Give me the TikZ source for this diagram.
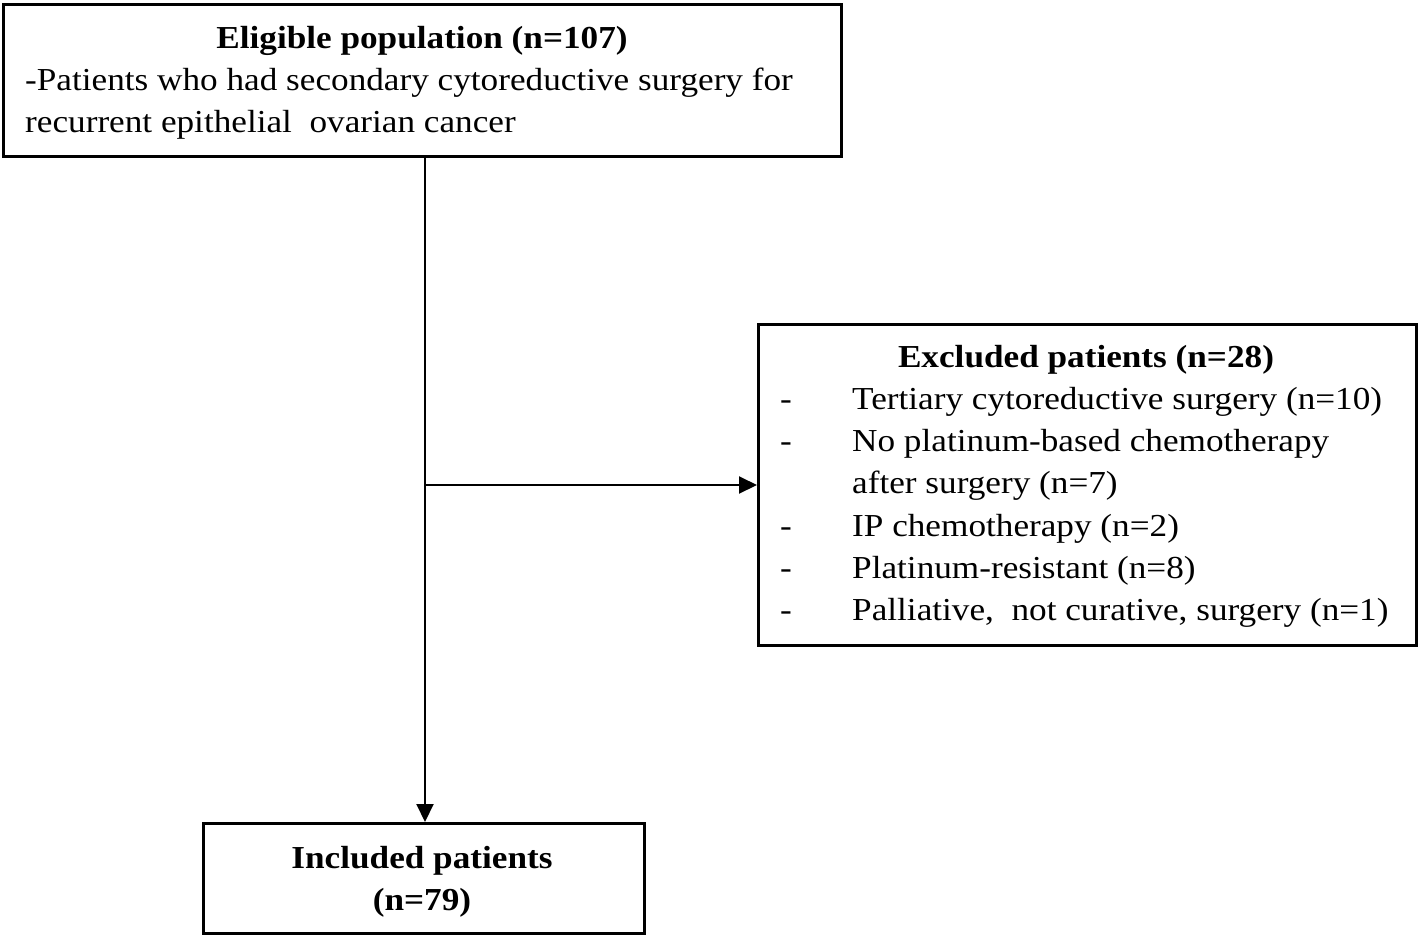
\documentclass[tikz,border=0pt]{standalone}
\usepackage{fontspec}
\setmainfont{Liberation Serif}[FakeStretch=1.1]
\usetikzlibrary{arrows.meta}
\begin{document}
\begin{tikzpicture}[x=1pt,y=-1pt,
  box/.style={draw=black,line width=2.5pt,inner sep=0pt,anchor=north west},
  txt/.style={inner sep=0pt,font=\fontsize{32}{38}\selectfont},
  arr/.style={line width=2pt,-{Triangle[length=18pt,width=17pt]}}]
\useasboundingbox (0,0) rectangle (1418,937);
\node[box,minimum width=838pt,minimum height=152pt] (top) at (2,3) {};
\node[box,minimum width=658pt,minimum height=321pt] (exc) at (757,323) {};
\node[box,minimum width=441pt,minimum height=110pt] (inc) at (202,822) {};
% top texts
\node[txt,anchor=base,font=\fontsize{32}{38}\selectfont\bfseries] (t1) at (422,48) {Eligible population (n=107)};
\node[txt,anchor=base west] (t2) at (25,90) {-Patients who had secondary cytoreductive surgery for};
\node[txt,anchor=base west] (t3) at (25,132) {recurrent epithelial\ \ ovarian cancer};
% excluded texts
\node[txt,anchor=base,font=\fontsize{32}{38}\selectfont\bfseries] (e0) at (1086,367) {Excluded patients (n=28)};
\node[txt,anchor=base west] (d1) at (780,409) {-};
\node[txt,anchor=base west] (e1) at (852,409) {Tertiary cytoreductive surgery (n=10)};
\node[txt,anchor=base west] (d2) at (780,451) {-};
\node[txt,anchor=base west] (e2) at (852,451) {No platinum-based chemotherapy};
\node[txt,anchor=base west] (e3) at (852,493) {after surgery (n=7)};
\node[txt,anchor=base west] (d4) at (780,536) {-};
\node[txt,anchor=base west] (e4) at (852,536) {IP chemotherapy (n=2)};
\node[txt,anchor=base west] (d5) at (780,578) {-};
\node[txt,anchor=base west] (e5) at (852,578) {Platinum-resistant (n=8)};
\node[txt,anchor=base west] (d6) at (780,620) {-};
\node[txt,anchor=base west] (e6) at (852,620) {Palliative,\ \ not curative, surgery (n=1)};
% included texts
\node[txt,anchor=base,font=\fontsize{32}{38}\selectfont\bfseries] (i1) at (422,868) {Included patients};
\node[txt,anchor=base,font=\fontsize{32}{38}\selectfont\bfseries] (i2) at (422,910) {(n=79)};
% connectors
\coordinate (j) at (425,485);
\draw[arr] (top.south -| j) -- (inc.north -| j);
\draw[arr] (j) -- (exc.west |- j);
\end{tikzpicture}
\end{document}
